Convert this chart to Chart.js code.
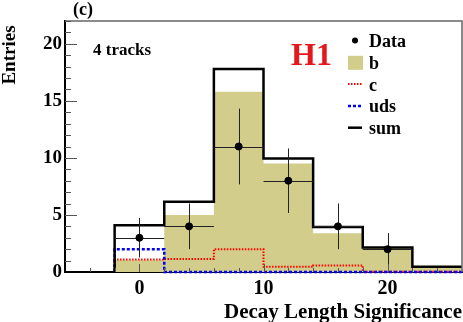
<!DOCTYPE html>
<html>
<head>
<meta charset="utf-8">
<script src="https://cdn.jsdelivr.net/npm/chart.js@4.4.0/dist/chart.umd.min.js"></script>
<style>
    html, body { margin: 0; padding: 0; background: #fff; }
    #wrap { width: 463px; height: 322px; }
</style>
</head>
<body>
<div id="wrap"><canvas id="myChart" width="463" height="322"></canvas></div>
<script>
// histogram bins (decay length significance)
const binEdges = [-2, 2, 6, 10, 14, 18, 22, 26];
const sumValues = [4.1, 6.15, 17.8, 9.95, 3.95, 2.15, 0.45];
const bValues = [1.05, 5.0, 15.8, 9.5, 3.4, 2.1, 0.4];
const cValues = [1.1, 1.15, 2.0, 0.45, 0.58, 0.02, 0.02];
const udsValues = [2.0, 0, 0, 0, 0, 0, 0];

// data points with errors
const dataX = [0, 4, 8, 12, 16, 20];
const dataY = [3, 4, 11, 8, 4, 2];
const dataYErr = [1.73, 2.0, 3.32, 2.83, 2.0, 1.41];
const dataXErr = [2, 2, 2, 2, 2, 2];

const xTicks = [0, 10, 20];
const yTicks = [0, 5, 10, 15, 20];

const serif = "'Liberation Serif', 'DejaVu Serif', serif";

function histPoints(values) {
    const pts = [{ x: binEdges[0], y: 0 }];
    values.forEach((v, i) => pts.push({ x: binEdges[i], y: v }));
    pts.push({ x: binEdges[binEdges.length - 1], y: values[values.length - 1] });
    return pts;
}

// error bars under the data markers
const errorBars = {
    id: 'errorBars',
    beforeDatasetDraw(chart, args) {
        if (chart.data.datasets[args.index].label !== 'Data') return;
        const ctx = chart.ctx, xs = chart.scales.x, ys = chart.scales.y;
        ctx.save();
        ctx.strokeStyle = '#222';
        ctx.lineWidth = 1;
        dataX.forEach((x, i) => {
            const px = Math.round(xs.getPixelForValue(x)) + 0.5;
            const py = Math.round(ys.getPixelForValue(dataY[i])) + 0.5;
            ctx.beginPath();
            ctx.moveTo(px, ys.getPixelForValue(dataY[i] - dataYErr[i]));
            ctx.lineTo(px, ys.getPixelForValue(dataY[i] + dataYErr[i]));
            ctx.moveTo(xs.getPixelForValue(x - dataXErr[i]), py);
            ctx.lineTo(xs.getPixelForValue(x + dataXErr[i]), py);
            ctx.stroke();
        });
        ctx.restore();
    }
};

// ROOT style frame, inner ticks, labels and legend
const frame = {
    id: 'frame',
    afterDatasetsDraw(chart) {
        const ctx = chart.ctx, a = chart.chartArea;
        const xs = chart.scales.x, ys = chart.scales.y;
        ctx.save();
        ctx.strokeStyle = '#666';
        ctx.lineWidth = 1.5;
        ctx.beginPath();
        ctx.moveTo(a.left, a.top);
        ctx.lineTo(a.right, a.top);
        ctx.lineTo(a.right, a.bottom);
        ctx.stroke();

        ctx.strokeStyle = '#555';
        ctx.lineWidth = 1;
        ctx.beginPath();
        for (let v = 1; v <= 22; v++) {
            const y = Math.round(ys.getPixelForValue(v)) + 0.5;
            const len = v % 5 === 0 ? 12 : 6;
            ctx.moveTo(a.left, y);
            ctx.lineTo(a.left + len, y);
        }
        for (let v = -4; v <= 24; v += 2) {
            const x = Math.round(xs.getPixelForValue(v)) + 0.5;
            const len = v % 10 === 0 ? 8 : 4;
            ctx.moveTo(x, a.bottom);
            ctx.lineTo(x, a.bottom - len);
        }
        ctx.stroke();
        ctx.restore();
    },
    afterDraw(chart) {
        const ctx = chart.ctx;
        ctx.save();
        ctx.fillStyle = '#000';
        ctx.textBaseline = 'alphabetic';

        ctx.font = 'bold 18px ' + serif;
        ctx.textAlign = 'left';
        ctx.fillText('(c)', 73, 15);

        ctx.font = 'bold 17px ' + serif;
        ctx.fillText('4 tracks', 93, 55);

        ctx.font = 'bold 21px ' + serif;
        ctx.textAlign = 'right';
        ctx.fillText('Decay Length Significance', 462, 318);

        ctx.save();
        ctx.translate(15, 55);
        ctx.rotate(-Math.PI / 2);
        ctx.font = 'bold 19px ' + serif;
        ctx.textAlign = 'center';
        ctx.fillText('Entries', 0, 0);
        ctx.restore();

        ctx.font = 'bold 32px ' + serif;
        ctx.textAlign = 'left';
        ctx.fillStyle = '#e3171c';
        ctx.fillText('H1', 291, 65);

        // legend
        const order = ['Data', 'b', 'c', 'uds', 'sum'];
        ctx.font = 'bold 18px ' + serif;
        order.forEach((name, i) => {
            const ds = chart.data.datasets.find(d => d.label === name);
            const base = 47 + i * 21.8;
            const my = base - 6.5;
            ctx.fillStyle = '#000';
            ctx.fillText(name, 369, base);
            if (name === 'Data') {
                ctx.beginPath();
                ctx.arc(355, my, 3, 0, Math.PI * 2);
                ctx.fill();
            } else if (name === 'b') {
                ctx.fillStyle = ds.backgroundColor;
                ctx.fillRect(348, my - 6.5, 15, 14);
            } else {
                ctx.strokeStyle = ds.borderColor;
                ctx.lineWidth = ds.borderWidth;
                ctx.setLineDash(ds.borderDash || []);
                ctx.beginPath();
                ctx.moveTo(348, my);
                ctx.lineTo(362, my);
                ctx.stroke();
                ctx.setLineDash([]);
            }
        });
        ctx.restore();
    }
};

const ctx1 = document.getElementById('myChart').getContext('2d');
const myChart = new Chart(ctx1, {
    type: 'line',
    data: {
        datasets: [{
            label: 'Data',
            data: dataX.map((x, i) => ({ x: x, y: dataY[i] })),
            showLine: false,
            pointRadius: 3.5,
            pointBackgroundColor: '#000',
            pointBorderColor: '#000',
            order: 0
        },
        {
            label: 'sum',
            data: histPoints(sumValues),
            stepped: 'before',
            borderColor: '#000',
            borderWidth: 2.5,
            pointRadius: 0,
            fill: false,
            clip: 4,
            order: 1
        },
        {
            label: 'uds',
            data: histPoints(udsValues),
            stepped: 'before',
            borderColor: '#0000ff',
            borderWidth: 2.5,
            borderDash: [3, 2],
            pointRadius: 0,
            fill: false,
            clip: 4,
            order: 2
        },
        {
            label: 'c',
            data: histPoints(cValues),
            stepped: 'before',
            borderColor: '#ff0000',
            borderWidth: 2,
            borderDash: [1.5, 1.5],
            pointRadius: 0,
            fill: false,
            clip: 4,
            order: 3
        },
        {
            label: 'b',
            data: histPoints(bValues),
            stepped: 'before',
            borderWidth: 0,
            borderColor: 'rgba(0,0,0,0)',
            backgroundColor: '#d2cd8a',
            pointRadius: 0,
            fill: 'origin',
            order: 4
        }]
    },
    options: {
        responsive: false,
        animation: false,
        layout: { autoPadding: false, padding: { top: 21, right: 1, left: 0, bottom: 0 } },
        scales: {
            x: {
                type: 'linear',
                min: -6,
                max: 26,
                afterBuildTicks: s => { s.ticks = xTicks.map(v => ({ value: v })); },
                afterFit: s => { s.height = 50; },
                grid: { display: false, drawTicks: false },
                border: { display: true, color: '#000', width: 2 },
                ticks: {
                    color: '#000',
                    padding: 5,
                    maxRotation: 0,
                    font: { family: serif, size: 20, weight: 'bold' }
                }
            },
            y: {
                min: 0,
                max: 22,
                afterBuildTicks: s => { s.ticks = yTicks.map(v => ({ value: v })); },
                afterFit: s => { s.width = 65; },
                grid: { display: false, drawTicks: false },
                border: { display: true, color: '#000', width: 2 },
                ticks: {
                    color: '#000',
                    padding: 3,
                    font: { family: serif, size: 19, weight: 'bold' }
                }
            }
        },
        plugins: {
            legend: { display: false },
            tooltip: { enabled: false }
        }
    },
    plugins: [errorBars, frame]
});
</script>
</body>
</html>
